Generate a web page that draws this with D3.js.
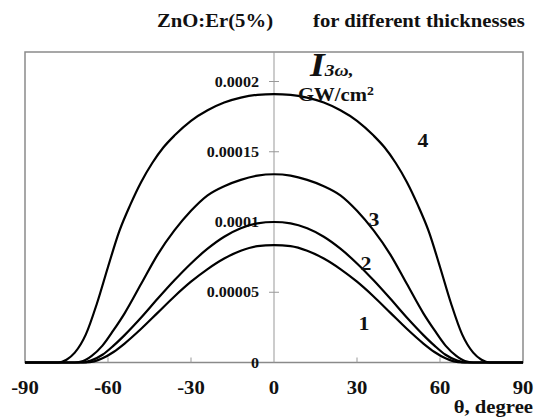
<!DOCTYPE html>
<html>
<head>
<meta charset="utf-8">
<script src="https://cdn.jsdelivr.net/npm/d3@7"></script>
<style>
  body { margin: 0; background: #fff; }
  text { font-family: "Liberation Serif", "Times New Roman", serif; font-weight: bold; fill: #111; }
</style>
</head>
<body>
<div id="chart"></div>
<script>
// data (theta in degrees, I in units of 1e-5 GW/cm2)
const xTicks = [-90, -60, -30, 0, 30, 60, 90];
const yTicks = [0, 0.00005, 0.0001, 0.00015, 0.0002];
const yTickLabels = ["0", "0.00005", "0.0001", "0.00015", "0.0002"];

const theta1 = [-90, -68, -65, -62, -58, -54, -48, -42, -36, -30, -24, -18, -12, -6, 0, 6, 12, 18, 24, 30, 36, 42, 48, 54, 58, 62, 65, 68, 90];
const val1 = [0, 0, 0.08, 0.3, 0.75, 1.35, 2.4, 3.55, 4.7, 5.75, 6.65, 7.4, 7.95, 8.28, 8.36, 8.28, 7.95, 7.4, 6.65, 5.75, 4.7, 3.55, 2.4, 1.35, 0.75, 0.3, 0.08, 0, 0];

const theta2 = [-90, -69, -66, -62, -58, -54, -48, -42, -36, -30, -24, -18, -12, -6, 0, 6, 12, 18, 24, 30, 36, 42, 48, 54, 58, 62, 66, 69, 90];
const val2 = [0, 0, 0.15, 0.55, 1.2, 1.95, 3.2, 4.55, 5.85, 7.05, 8.1, 8.95, 9.55, 9.9, 10.0, 9.9, 9.55, 8.95, 8.1, 7.05, 5.85, 4.55, 3.2, 1.95, 1.2, 0.55, 0.15, 0, 0];

const theta3 = [-90, -72, -69, -66, -62, -58, -54, -48, -42, -36, -30, -24, -18, -12, -6, 0, 6, 12, 18, 24, 30, 36, 42, 48, 54, 58, 62, 66, 69, 72, 90];
const val3 = [0, 0, 0.1, 0.45, 1.2, 2.3, 3.5, 5.6, 7.7, 9.4, 10.8, 11.9, 12.55, 13.0, 13.3, 13.4, 13.3, 13.0, 12.55, 11.9, 10.8, 9.4, 7.7, 5.6, 3.5, 2.3, 1.2, 0.45, 0.1, 0, 0];

const theta4 = [-90, -78, -75, -72, -68, -64, -60, -56, -52, -48, -44, -40, -36, -30, -24, -18, -12, -6, 0, 6, 12, 18, 24, 30, 36, 40, 44, 48, 52, 56, 60, 64, 68, 72, 75, 78, 90];
const val4 = [0, 0, 0.2, 0.7, 2.0, 4.2, 6.8, 9.3, 11.2, 12.85, 14.2, 15.3, 16.15, 17.2, 17.95, 18.5, 18.85, 19.05, 19.1, 19.05, 18.85, 18.5, 17.95, 17.2, 16.15, 15.3, 14.2, 12.85, 11.2, 9.3, 6.8, 4.2, 2.0, 0.7, 0.2, 0, 0];

const curveNames = ["1", "2", "3", "4"];
const curveLabelPos = [[364, 330], [366, 270], [374, 226], [423, 147]]; // label anchor (px)

const series = [[theta1, val1], [theta2, val2], [theta3, val3], [theta4, val4]]
    .map(([t, v]) => t.map((d, i) => ({ theta: d, I: v[i] * 1e-5 })));

const W = 544, H = 418;
const plot = { left: 25, right: 523, top: 52, bottom: 362.5 };
const stretch = 1.15; // the original picture is a bit wider than tall

const svg = d3.select("#chart").append("svg")
    .attr("width", W).attr("height", H);

const x = d3.scaleLinear().domain([-90, 90]).range([plot.left, plot.right]);
const y = d3.scaleLinear().domain([0, 0.0002]).range([plot.bottom, 81.5]);

// frame
svg.append("rect")
    .attr("x", plot.left).attr("y", plot.top)
    .attr("width", plot.right - plot.left).attr("height", plot.bottom - plot.top)
    .attr("fill", "none").attr("stroke", "#8a8a8a").attr("stroke-width", 1.5);

// vertical axis at theta = 0
svg.append("line")
    .attr("x1", x(0)).attr("x2", x(0))
    .attr("y1", plot.top).attr("y2", plot.bottom)
    .attr("stroke", "#999").attr("stroke-width", 1);

function stretchedText(sel, px, py, anchor) {
    return sel.attr("transform", `translate(${px},${py}) scale(${stretch},1)`)
        .attr("text-anchor", anchor);
}

// y ticks & labels
yTicks.forEach((t, i) => {
    if (t > 0) {
        svg.append("line")
            .attr("x1", x(0) - 5).attr("x2", x(0) + 5)
            .attr("y1", y(t)).attr("y2", y(t))
            .attr("stroke", "#999");
    }
    stretchedText(svg.append("text").text(yTickLabels[i]), x(0) - 15, y(t) + 5, "end")
        .style("font-size", "14px");
});

// x ticks & labels
xTicks.forEach(t => {
    if (t > -90 && t < 90 && t !== 0) {
        svg.append("line")
            .attr("x1", x(t)).attr("x2", x(t))
            .attr("y1", plot.bottom - 5).attr("y2", plot.bottom)
            .attr("stroke", "#999");
    }
    stretchedText(svg.append("text").text(t), x(t), 394, "middle")
        .style("font-size", "18px");
});

stretchedText(svg.append("text").text("θ, degree"), 533, 413, "end")
    .style("font-size", "18px");

// title
stretchedText(svg.append("text").text("ZnO:Er(5%)"), 157, 27, "start")
    .style("font-size", "18px");
stretchedText(svg.append("text").text("for different thicknesses"), 313, 27, "start")
    .style("font-size", "18px");

// curves
const line = d3.line()
    .x(d => x(d.theta))
    .y(d => y(d.I))
    .curve(d3.curveMonotoneX);

svg.append("g").selectAll("path")
    .data(series)
    .join("path")
    .attr("d", line)
    .attr("fill", "none")
    .attr("stroke", "#000")
    .attr("stroke-width", 2.2);

// curve numbers
curveNames.forEach((n, i) => {
    stretchedText(svg.append("text").text(n), curveLabelPos[i][0], curveLabelPos[i][1], "middle")
        .style("font-size", "19px");
});

// axis title I_3w, GW/cm2
const iLab = stretchedText(svg.append("text"), 310, 76, "start");
iLab.append("tspan").text("I").style("font-size", "33px").style("font-style", "italic");
iLab.append("tspan").text("3ω,").style("font-size", "17px").style("font-style", "italic");

const unit = stretchedText(svg.append("text"), 298, 101, "start").style("font-size", "18px");
unit.append("tspan").text("GW/cm");
unit.append("tspan").text("2").attr("dy", -6).style("font-size", "12px");
</script>
</body>
</html>
